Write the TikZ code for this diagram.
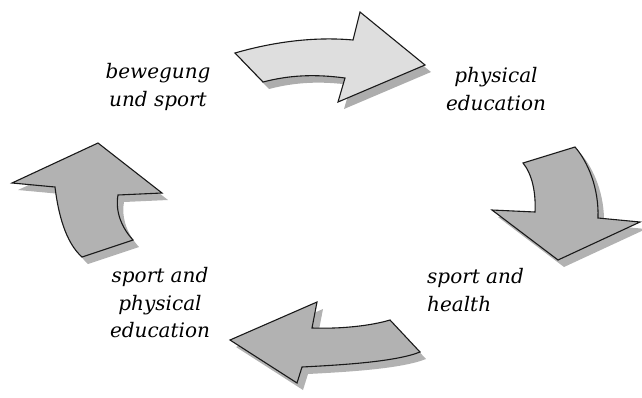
\documentclass[tikz,border=0pt]{standalone}
\usepackage{fontspec}
\setmainfont{DejaVu Serif}
\begin{document}
\begin{tikzpicture}[x=1pt,y=-1pt,
  arrowbody/.style={draw=black!90, line width=1.1pt, line join=miter},
  lightarrow/.style={arrowbody, fill=black!13},
  darkarrow/.style={arrowbody, fill=black!30},
  caption/.style={font=\fontsize{20}{27.5}\selectfont\itshape, inner sep=0pt}]
\useasboundingbox (0,0) rectangle (642,397);

% curved arrow: bewegung und sport -> physical education
\def\cycTop{(235,53) .. controls (280,40) and (320,37) .. (353,40) -- (360,12) -- (425,65) -- (338,102) -- (345,78) .. controls (315,74) and (290,75) .. (263,82) -- cycle}
% curved arrow: physical education -> sport and health
\def\cycRight{(523,163) -- (575,147) .. controls (588,162) and (599,188) .. (598,218) -- (640,222) -- (558,260) -- (492,210) -- (535,212) .. controls (536,192) and (532,174) .. (523,163) -- cycle}
% curved arrow: sport and health -> sport and physical education
\def\cycBottom{(390,320) .. controls (370,326) and (340,329) .. (312,328) -- (317,302) -- (230,340) -- (297,383) -- (302,367) .. controls (340,365) and (395,362) .. (420,352) -- cycle}
% curved arrow: sport and physical education -> bewegung und sport
\def\cycLeft{(98,143) -- (12,183) -- (55,187) .. controls (58,212) and (65,242) .. (82,257) -- (133,240) .. controls (122,228) and (115,212) .. (118,195) -- (162,193) -- cycle}

% drop shadows
\begin{scope}[shift={(6,7)}]
  \fill[black!32] \cycTop;
  \fill[black!30] \cycRight;
  \fill[black!30] \cycBottom;
  \fill[black!30] \cycLeft;
\end{scope}

\path[lightarrow] \cycTop;
\path[darkarrow] \cycRight;
\path[darkarrow] \cycBottom;
\path[darkarrow] \cycLeft;

\node[caption, align=center] (bus) at (158,87) {bewegung\\und sport};
\node[caption, align=center] (pe) at (496,89) {physical\\education};
\node[caption, align=left, anchor=west] (sh) at (427,290) {sport and\\health};
\node[caption, align=center] (spe) at (160,303) {sport and\\physical\\education};
\end{tikzpicture}
\end{document}
